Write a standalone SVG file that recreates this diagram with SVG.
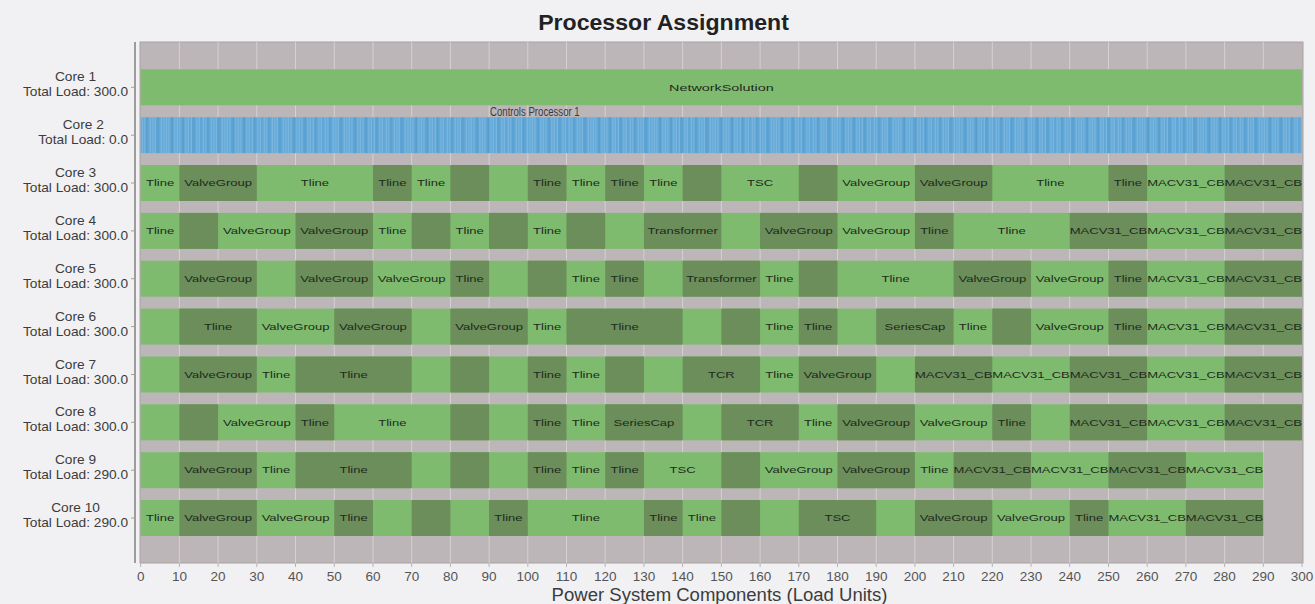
<svg xmlns="http://www.w3.org/2000/svg" width="1315" height="604" viewBox="0 0 1315 604">
<style>
.L{fill:#7fbb6f}
.D{fill:#6b8e5b}
.b{font-family:"Liberation Sans",Arial,sans-serif;font-size:9px;fill:#1e2a1c;text-anchor:middle}
.yl{font-family:"Liberation Sans",Arial,sans-serif;font-size:13.3px;fill:#3c3c3c;text-anchor:middle}
.xt{font-family:"Liberation Sans",Arial,sans-serif;font-size:13.5px;fill:#555;text-anchor:middle}
.grid line{stroke:#d6d0d2;stroke-width:1}
.sl{stroke:#94c5e7;stroke-width:0.7}
.sd{stroke:#4d90c1;stroke-width:0.6}
</style>
<defs>
<pattern id="stripes" patternUnits="userSpaceOnUse" x="140.7" y="0" width="61" height="40">
<rect width="61" height="40" fill="#60a6d6"/>
<line class="sl" x1="1.5" y1="0" x2="1.5" y2="40"/>
<line class="sl" x1="4" y1="0" x2="4" y2="40"/>
<line class="sd" x1="6" y1="0" x2="6" y2="40"/>
<line class="sl" x1="9.5" y1="0" x2="9.5" y2="40"/>
<line class="sl" x1="12" y1="0" x2="12" y2="40"/>
<line class="sl" x1="14.5" y1="0" x2="14.5" y2="40"/>
<line class="sd" x1="17" y1="0" x2="17" y2="40"/>
<line class="sl" x1="20.5" y1="0" x2="20.5" y2="40"/>
<line class="sl" x1="23" y1="0" x2="23" y2="40"/>
<line class="sl" x1="25.5" y1="0" x2="25.5" y2="40"/>
<line class="sl" x1="28" y1="0" x2="28" y2="40"/>
<line class="sd" x1="31.5" y1="0" x2="31.5" y2="40"/>
<line class="sl" x1="34" y1="0" x2="34" y2="40"/>
<line class="sl" x1="36.5" y1="0" x2="36.5" y2="40"/>
<line class="sl" x1="39" y1="0" x2="39" y2="40"/>
<line class="sd" x1="42.5" y1="0" x2="42.5" y2="40"/>
<line class="sl" x1="45" y1="0" x2="45" y2="40"/>
<line class="sl" x1="47.5" y1="0" x2="47.5" y2="40"/>
<line class="sl" x1="50.5" y1="0" x2="50.5" y2="40"/>
<line class="sd" x1="53" y1="0" x2="53" y2="40"/>
<line class="sl" x1="56" y1="0" x2="56" y2="40"/>
<line class="sl" x1="58.5" y1="0" x2="58.5" y2="40"/>
</pattern>
</defs>
<rect width="1315" height="604" fill="#f1f1f3"/>
<text x="663.5" y="30" transform="translate(663.5,0) scale(1.05,1) translate(-663.5,0)" font-family="Liberation Sans, Arial, sans-serif" font-size="22" font-weight="bold" fill="#222" text-anchor="middle">Processor Assignment</text>

<g id="plot-area">
<rect x="140" y="42" width="1163" height="521" fill="#bdb6b8" stroke="#a8a2a3" stroke-width="1"/>
<g class="grid">
<line x1="179.4" y1="42" x2="179.4" y2="563"/><line x1="218.1" y1="42" x2="218.1" y2="563"/><line x1="256.8" y1="42" x2="256.8" y2="563"/><line x1="295.5" y1="42" x2="295.5" y2="563"/><line x1="334.3" y1="42" x2="334.3" y2="563"/><line x1="373.0" y1="42" x2="373.0" y2="563"/><line x1="411.7" y1="42" x2="411.7" y2="563"/><line x1="450.4" y1="42" x2="450.4" y2="563"/><line x1="489.1" y1="42" x2="489.1" y2="563"/><line x1="527.8" y1="42" x2="527.8" y2="563"/><line x1="566.5" y1="42" x2="566.5" y2="563"/><line x1="605.2" y1="42" x2="605.2" y2="563"/><line x1="643.9" y1="42" x2="643.9" y2="563"/><line x1="682.6" y1="42" x2="682.6" y2="563"/><line x1="721.4" y1="42" x2="721.4" y2="563"/><line x1="760.1" y1="42" x2="760.1" y2="563"/><line x1="798.8" y1="42" x2="798.8" y2="563"/><line x1="837.5" y1="42" x2="837.5" y2="563"/><line x1="876.2" y1="42" x2="876.2" y2="563"/><line x1="914.9" y1="42" x2="914.9" y2="563"/><line x1="953.6" y1="42" x2="953.6" y2="563"/><line x1="992.3" y1="42" x2="992.3" y2="563"/><line x1="1031.0" y1="42" x2="1031.0" y2="563"/><line x1="1069.7" y1="42" x2="1069.7" y2="563"/><line x1="1108.5" y1="42" x2="1108.5" y2="563"/><line x1="1147.2" y1="42" x2="1147.2" y2="563"/><line x1="1185.9" y1="42" x2="1185.9" y2="563"/><line x1="1224.6" y1="42" x2="1224.6" y2="563"/><line x1="1263.3" y1="42" x2="1263.3" y2="563"/>
</g>
</g>

<g id="core2"><rect x="140.7" y="117.2" width="1161.3" height="36" fill="url(#stripes)"/></g>

<g id="bars" transform="translate(140.7,0) scale(3.871,1)">
<g id="core1"><rect class="L" x="0" y="69.3" width="300" height="36"/></g>
<g id="core3">
<rect class="L" x="0" y="165" width="300" height="36"/>
<rect class="D" x="10" y="165" width="20" height="36"/><rect class="D" x="60" y="165" width="10" height="36"/><rect class="D" x="80" y="165" width="10" height="36"/><rect class="D" x="100" y="165" width="10" height="36"/><rect class="D" x="120" y="165" width="10" height="36"/><rect class="D" x="140" y="165" width="10" height="36"/><rect class="D" x="170" y="165" width="10" height="36"/><rect class="D" x="200" y="165" width="20" height="36"/><rect class="D" x="250" y="165" width="10" height="36"/><rect class="D" x="280" y="165" width="20" height="36"/>
</g>
<g id="core4">
<rect class="L" x="0" y="212.9" width="300" height="36"/>
<rect class="D" x="10" y="212.9" width="10" height="36"/><rect class="D" x="40" y="212.9" width="20" height="36"/><rect class="D" x="70" y="212.9" width="10" height="36"/><rect class="D" x="90" y="212.9" width="10" height="36"/><rect class="D" x="110" y="212.9" width="10" height="36"/><rect class="D" x="130" y="212.9" width="20" height="36"/><rect class="D" x="160" y="212.9" width="20" height="36"/><rect class="D" x="200" y="212.9" width="10" height="36"/><rect class="D" x="240" y="212.9" width="20" height="36"/><rect class="D" x="280" y="212.9" width="20" height="36"/>
</g>
<g id="core5">
<rect class="L" x="0" y="260.7" width="300" height="36"/>
<rect class="D" x="10" y="260.7" width="20" height="36"/><rect class="D" x="40" y="260.7" width="20" height="36"/><rect class="D" x="80" y="260.7" width="10" height="36"/><rect class="D" x="100" y="260.7" width="10" height="36"/><rect class="D" x="120" y="260.7" width="10" height="36"/><rect class="D" x="140" y="260.7" width="20" height="36"/><rect class="D" x="170" y="260.7" width="10" height="36"/><rect class="D" x="210" y="260.7" width="20" height="36"/><rect class="D" x="250" y="260.7" width="10" height="36"/><rect class="D" x="280" y="260.7" width="20" height="36"/>
</g>
<g id="core6">
<rect class="L" x="0" y="308.6" width="300" height="36"/>
<rect class="D" x="10" y="308.6" width="20" height="36"/><rect class="D" x="50" y="308.6" width="20" height="36"/><rect class="D" x="80" y="308.6" width="20" height="36"/><rect class="D" x="110" y="308.6" width="30" height="36"/><rect class="D" x="150" y="308.6" width="10" height="36"/><rect class="D" x="170" y="308.6" width="10" height="36"/><rect class="D" x="190" y="308.6" width="20" height="36"/><rect class="D" x="220" y="308.6" width="10" height="36"/><rect class="D" x="250" y="308.6" width="10" height="36"/><rect class="D" x="280" y="308.6" width="20" height="36"/>
</g>
<g id="core7">
<rect class="L" x="0" y="356.5" width="300" height="36"/>
<rect class="D" x="10" y="356.5" width="20" height="36"/><rect class="D" x="40" y="356.5" width="30" height="36"/><rect class="D" x="80" y="356.5" width="10" height="36"/><rect class="D" x="100" y="356.5" width="10" height="36"/><rect class="D" x="120" y="356.5" width="10" height="36"/><rect class="D" x="140" y="356.5" width="20" height="36"/><rect class="D" x="170" y="356.5" width="20" height="36"/><rect class="D" x="200" y="356.5" width="20" height="36"/><rect class="D" x="240" y="356.5" width="20" height="36"/><rect class="D" x="280" y="356.5" width="20" height="36"/>
</g>
<g id="core8">
<rect class="L" x="0" y="404.3" width="300" height="36"/>
<rect class="D" x="10" y="404.3" width="10" height="36"/><rect class="D" x="40" y="404.3" width="10" height="36"/><rect class="D" x="80" y="404.3" width="10" height="36"/><rect class="D" x="100" y="404.3" width="10" height="36"/><rect class="D" x="120" y="404.3" width="20" height="36"/><rect class="D" x="150" y="404.3" width="20" height="36"/><rect class="D" x="180" y="404.3" width="20" height="36"/><rect class="D" x="220" y="404.3" width="10" height="36"/><rect class="D" x="240" y="404.3" width="20" height="36"/><rect class="D" x="280" y="404.3" width="20" height="36"/>
</g>
<g id="core9">
<rect class="L" x="0" y="452.2" width="290" height="36"/>
<rect class="D" x="10" y="452.2" width="20" height="36"/><rect class="D" x="40" y="452.2" width="30" height="36"/><rect class="D" x="80" y="452.2" width="10" height="36"/><rect class="D" x="100" y="452.2" width="10" height="36"/><rect class="D" x="120" y="452.2" width="10" height="36"/><rect class="D" x="150" y="452.2" width="10" height="36"/><rect class="D" x="180" y="452.2" width="20" height="36"/><rect class="D" x="210" y="452.2" width="20" height="36"/><rect class="D" x="250" y="452.2" width="20" height="36"/>
</g>
<g id="core10">
<rect class="L" x="0" y="500" width="290" height="36"/>
<rect class="D" x="10" y="500" width="20" height="36"/><rect class="D" x="50" y="500" width="10" height="36"/><rect class="D" x="70" y="500" width="10" height="36"/><rect class="D" x="90" y="500" width="10" height="36"/><rect class="D" x="130" y="500" width="10" height="36"/><rect class="D" x="150" y="500" width="10" height="36"/><rect class="D" x="170" y="500" width="20" height="36"/><rect class="D" x="200" y="500" width="20" height="36"/><rect class="D" x="240" y="500" width="10" height="36"/><rect class="D" x="270" y="500" width="20" height="36"/>
</g>
</g>

<g id="bar-labels">
<text class="b" transform="translate(721.35,90.8) scale(1.6,1.05)">NetworkSolution</text>
<text x="490" y="116.5" transform="translate(490,0) scale(0.74,1) translate(-490,0)" font-family="Liberation Sans, Arial, sans-serif" font-size="13" fill="#3a3a4a">Controls Processor 1</text>

<text class="b" transform="translate(160.06,186.2) scale(1.45,1)">Tline</text>
<text class="b" transform="translate(218.12,186.2) scale(1.45,1)">ValveGroup</text>
<text class="b" transform="translate(314.9,186.2) scale(1.45,1)">Tline</text>
<text class="b" transform="translate(392.32,186.2) scale(1.45,1)">Tline</text>
<text class="b" transform="translate(431.03,186.2) scale(1.45,1)">Tline</text>
<text class="b" transform="translate(547.16,186.2) scale(1.45,1)">Tline</text>
<text class="b" transform="translate(585.87,186.2) scale(1.45,1)">Tline</text>
<text class="b" transform="translate(624.58,186.2) scale(1.45,1)">Tline</text>
<text class="b" transform="translate(663.29,186.2) scale(1.45,1)">Tline</text>
<text class="b" transform="translate(760.06,186.2) scale(1.45,1)">TSC</text>
<text class="b" transform="translate(876.19,186.2) scale(1.45,1)">ValveGroup</text>
<text class="b" transform="translate(953.61,186.2) scale(1.45,1)">ValveGroup</text>
<text class="b" transform="translate(1050.39,186.2) scale(1.45,1)">Tline</text>
<text class="b" transform="translate(1127.81,186.2) scale(1.45,1)">Tline</text>
<text class="b" transform="translate(1185.87,186.2) scale(1.45,1)">MACV31_CB</text>
<text class="b" transform="translate(1263.29,186.2) scale(1.45,1)">MACV31_CB</text>

<text class="b" transform="translate(160.06,234.1) scale(1.45,1)">Tline</text>
<text class="b" transform="translate(256.83,234.1) scale(1.45,1)">ValveGroup</text>
<text class="b" transform="translate(334.25,234.1) scale(1.45,1)">ValveGroup</text>
<text class="b" transform="translate(392.32,234.1) scale(1.45,1)">Tline</text>
<text class="b" transform="translate(469.74,234.1) scale(1.45,1)">Tline</text>
<text class="b" transform="translate(547.16,234.1) scale(1.45,1)">Tline</text>
<text class="b" transform="translate(682.64,234.1) scale(1.45,1)">Transformer</text>
<text class="b" transform="translate(798.77,234.1) scale(1.45,1)">ValveGroup</text>
<text class="b" transform="translate(876.19,234.1) scale(1.45,1)">ValveGroup</text>
<text class="b" transform="translate(934.26,234.1) scale(1.45,1)">Tline</text>
<text class="b" transform="translate(1011.68,234.1) scale(1.45,1)">Tline</text>
<text class="b" transform="translate(1108.45,234.1) scale(1.45,1)">MACV31_CB</text>
<text class="b" transform="translate(1185.87,234.1) scale(1.45,1)">MACV31_CB</text>
<text class="b" transform="translate(1263.29,234.1) scale(1.45,1)">MACV31_CB</text>

<text class="b" transform="translate(218.12,281.9) scale(1.45,1)">ValveGroup</text>
<text class="b" transform="translate(334.25,281.9) scale(1.45,1)">ValveGroup</text>
<text class="b" transform="translate(411.67,281.9) scale(1.45,1)">ValveGroup</text>
<text class="b" transform="translate(469.74,281.9) scale(1.45,1)">Tline</text>
<text class="b" transform="translate(585.87,281.9) scale(1.45,1)">Tline</text>
<text class="b" transform="translate(624.58,281.9) scale(1.45,1)">Tline</text>
<text class="b" transform="translate(721.35,281.9) scale(1.45,1)">Transformer</text>
<text class="b" transform="translate(779.42,281.9) scale(1.45,1)">Tline</text>
<text class="b" transform="translate(895.55,281.9) scale(1.45,1)">Tline</text>
<text class="b" transform="translate(992.32,281.9) scale(1.45,1)">ValveGroup</text>
<text class="b" transform="translate(1069.74,281.9) scale(1.45,1)">ValveGroup</text>
<text class="b" transform="translate(1127.81,281.9) scale(1.45,1)">Tline</text>
<text class="b" transform="translate(1185.87,281.9) scale(1.45,1)">MACV31_CB</text>
<text class="b" transform="translate(1263.29,281.9) scale(1.45,1)">MACV31_CB</text>

<text class="b" transform="translate(218.12,329.8) scale(1.45,1)">Tline</text>
<text class="b" transform="translate(295.54,329.8) scale(1.45,1)">ValveGroup</text>
<text class="b" transform="translate(372.96,329.8) scale(1.45,1)">ValveGroup</text>
<text class="b" transform="translate(489.09,329.8) scale(1.45,1)">ValveGroup</text>
<text class="b" transform="translate(547.16,329.8) scale(1.45,1)">Tline</text>
<text class="b" transform="translate(624.58,329.8) scale(1.45,1)">Tline</text>
<text class="b" transform="translate(779.42,329.8) scale(1.45,1)">Tline</text>
<text class="b" transform="translate(818.13,329.8) scale(1.45,1)">Tline</text>
<text class="b" transform="translate(914.9,329.8) scale(1.45,1)">SeriesCap</text>
<text class="b" transform="translate(972.97,329.8) scale(1.45,1)">Tline</text>
<text class="b" transform="translate(1069.74,329.8) scale(1.45,1)">ValveGroup</text>
<text class="b" transform="translate(1127.81,329.8) scale(1.45,1)">Tline</text>
<text class="b" transform="translate(1185.87,329.8) scale(1.45,1)">MACV31_CB</text>
<text class="b" transform="translate(1263.29,329.8) scale(1.45,1)">MACV31_CB</text>

<text class="b" transform="translate(218.12,377.7) scale(1.45,1)">ValveGroup</text>
<text class="b" transform="translate(276.19,377.7) scale(1.45,1)">Tline</text>
<text class="b" transform="translate(353.61,377.7) scale(1.45,1)">Tline</text>
<text class="b" transform="translate(547.16,377.7) scale(1.45,1)">Tline</text>
<text class="b" transform="translate(585.87,377.7) scale(1.45,1)">Tline</text>
<text class="b" transform="translate(721.35,377.7) scale(1.45,1)">TCR</text>
<text class="b" transform="translate(779.42,377.7) scale(1.45,1)">Tline</text>
<text class="b" transform="translate(837.48,377.7) scale(1.45,1)">ValveGroup</text>
<text class="b" transform="translate(953.61,377.7) scale(1.45,1)">MACV31_CB</text>
<text class="b" transform="translate(1031.03,377.7) scale(1.45,1)">MACV31_CB</text>
<text class="b" transform="translate(1108.45,377.7) scale(1.45,1)">MACV31_CB</text>
<text class="b" transform="translate(1185.87,377.7) scale(1.45,1)">MACV31_CB</text>
<text class="b" transform="translate(1263.29,377.7) scale(1.45,1)">MACV31_CB</text>

<text class="b" transform="translate(256.83,425.5) scale(1.45,1)">ValveGroup</text>
<text class="b" transform="translate(314.9,425.5) scale(1.45,1)">Tline</text>
<text class="b" transform="translate(392.32,425.5) scale(1.45,1)">Tline</text>
<text class="b" transform="translate(547.16,425.5) scale(1.45,1)">Tline</text>
<text class="b" transform="translate(585.87,425.5) scale(1.45,1)">Tline</text>
<text class="b" transform="translate(643.93,425.5) scale(1.45,1)">SeriesCap</text>
<text class="b" transform="translate(760.06,425.5) scale(1.45,1)">TCR</text>
<text class="b" transform="translate(818.13,425.5) scale(1.45,1)">Tline</text>
<text class="b" transform="translate(876.19,425.5) scale(1.45,1)">ValveGroup</text>
<text class="b" transform="translate(953.61,425.5) scale(1.45,1)">ValveGroup</text>
<text class="b" transform="translate(1011.68,425.5) scale(1.45,1)">Tline</text>
<text class="b" transform="translate(1108.45,425.5) scale(1.45,1)">MACV31_CB</text>
<text class="b" transform="translate(1185.87,425.5) scale(1.45,1)">MACV31_CB</text>
<text class="b" transform="translate(1263.29,425.5) scale(1.45,1)">MACV31_CB</text>

<text class="b" transform="translate(218.12,473.4) scale(1.45,1)">ValveGroup</text>
<text class="b" transform="translate(276.19,473.4) scale(1.45,1)">Tline</text>
<text class="b" transform="translate(353.61,473.4) scale(1.45,1)">Tline</text>
<text class="b" transform="translate(547.16,473.4) scale(1.45,1)">Tline</text>
<text class="b" transform="translate(585.87,473.4) scale(1.45,1)">Tline</text>
<text class="b" transform="translate(624.58,473.4) scale(1.45,1)">Tline</text>
<text class="b" transform="translate(682.64,473.4) scale(1.45,1)">TSC</text>
<text class="b" transform="translate(798.77,473.4) scale(1.45,1)">ValveGroup</text>
<text class="b" transform="translate(876.19,473.4) scale(1.45,1)">ValveGroup</text>
<text class="b" transform="translate(934.26,473.4) scale(1.45,1)">Tline</text>
<text class="b" transform="translate(992.32,473.4) scale(1.45,1)">MACV31_CB</text>
<text class="b" transform="translate(1069.74,473.4) scale(1.45,1)">MACV31_CB</text>
<text class="b" transform="translate(1147.16,473.4) scale(1.45,1)">MACV31_CB</text>
<text class="b" transform="translate(1224.58,473.4) scale(1.45,1)">MACV31_CB</text>

<text class="b" transform="translate(160.06,521.2) scale(1.45,1)">Tline</text>
<text class="b" transform="translate(218.12,521.2) scale(1.45,1)">ValveGroup</text>
<text class="b" transform="translate(295.54,521.2) scale(1.45,1)">ValveGroup</text>
<text class="b" transform="translate(353.61,521.2) scale(1.45,1)">Tline</text>
<text class="b" transform="translate(508.45,521.2) scale(1.45,1)">Tline</text>
<text class="b" transform="translate(585.87,521.2) scale(1.45,1)">Tline</text>
<text class="b" transform="translate(663.29,521.2) scale(1.45,1)">Tline</text>
<text class="b" transform="translate(701.99,521.2) scale(1.45,1)">Tline</text>
<text class="b" transform="translate(837.48,521.2) scale(1.45,1)">TSC</text>
<text class="b" transform="translate(953.61,521.2) scale(1.45,1)">ValveGroup</text>
<text class="b" transform="translate(1031.03,521.2) scale(1.45,1)">ValveGroup</text>
<text class="b" transform="translate(1089.1,521.2) scale(1.45,1)">Tline</text>
<text class="b" transform="translate(1147.16,521.2) scale(1.45,1)">MACV31_CB</text>
<text class="b" transform="translate(1224.58,521.2) scale(1.45,1)">MACV31_CB</text>
</g>

<g id="axes" stroke-linecap="butt">
<line x1="135" y1="42" x2="135" y2="563" stroke="#9c9c9c" stroke-width="2"/>
<line x1="140" y1="563.5" x2="1303" y2="563.5" stroke="#cfcaca" stroke-width="1"/>
<g stroke="#a0a0a0" stroke-width="1">
<line x1="131" y1="87.3" x2="135" y2="87.3"/><line x1="131" y1="135.2" x2="135" y2="135.2"/><line x1="131" y1="183" x2="135" y2="183"/><line x1="131" y1="230.9" x2="135" y2="230.9"/><line x1="131" y1="278.7" x2="135" y2="278.7"/><line x1="131" y1="326.6" x2="135" y2="326.6"/><line x1="131" y1="374.5" x2="135" y2="374.5"/><line x1="131" y1="422.3" x2="135" y2="422.3"/><line x1="131" y1="470.2" x2="135" y2="470.2"/><line x1="131" y1="518" x2="135" y2="518"/>
</g>
<g stroke="#b5b5b5" stroke-width="1">
<line x1="140.7" y1="563" x2="140.7" y2="567"/><line x1="179.4" y1="563" x2="179.4" y2="567"/><line x1="218.1" y1="563" x2="218.1" y2="567"/><line x1="256.8" y1="563" x2="256.8" y2="567"/><line x1="295.5" y1="563" x2="295.5" y2="567"/><line x1="334.3" y1="563" x2="334.3" y2="567"/><line x1="373.0" y1="563" x2="373.0" y2="567"/><line x1="411.7" y1="563" x2="411.7" y2="567"/><line x1="450.4" y1="563" x2="450.4" y2="567"/><line x1="489.1" y1="563" x2="489.1" y2="567"/><line x1="527.8" y1="563" x2="527.8" y2="567"/><line x1="566.5" y1="563" x2="566.5" y2="567"/><line x1="605.2" y1="563" x2="605.2" y2="567"/><line x1="643.9" y1="563" x2="643.9" y2="567"/><line x1="682.6" y1="563" x2="682.6" y2="567"/><line x1="721.4" y1="563" x2="721.4" y2="567"/><line x1="760.1" y1="563" x2="760.1" y2="567"/><line x1="798.8" y1="563" x2="798.8" y2="567"/><line x1="837.5" y1="563" x2="837.5" y2="567"/><line x1="876.2" y1="563" x2="876.2" y2="567"/><line x1="914.9" y1="563" x2="914.9" y2="567"/><line x1="953.6" y1="563" x2="953.6" y2="567"/><line x1="992.3" y1="563" x2="992.3" y2="567"/><line x1="1031.0" y1="563" x2="1031.0" y2="567"/><line x1="1069.7" y1="563" x2="1069.7" y2="567"/><line x1="1108.5" y1="563" x2="1108.5" y2="567"/><line x1="1147.2" y1="563" x2="1147.2" y2="567"/><line x1="1185.9" y1="563" x2="1185.9" y2="567"/><line x1="1224.6" y1="563" x2="1224.6" y2="567"/><line x1="1263.3" y1="563" x2="1263.3" y2="567"/><line x1="1302" y1="563" x2="1302" y2="567"/>
</g>
</g>

<g id="y-labels">
<text class="yl" transform="translate(75.5,81.3) scale(1.03,1)">Core 1</text><text class="yl" transform="translate(75.5,96.3) scale(1.03,1)">Total Load: 300.0</text>
<text class="yl" transform="translate(83.2,129.2) scale(1.03,1)">Core 2</text><text class="yl" transform="translate(83.2,144.2) scale(1.03,1)">Total Load: 0.0</text>
<text class="yl" transform="translate(75.5,177) scale(1.03,1)">Core 3</text><text class="yl" transform="translate(75.5,192) scale(1.03,1)">Total Load: 300.0</text>
<text class="yl" transform="translate(75.5,224.9) scale(1.03,1)">Core 4</text><text class="yl" transform="translate(75.5,239.9) scale(1.03,1)">Total Load: 300.0</text>
<text class="yl" transform="translate(75.5,272.7) scale(1.03,1)">Core 5</text><text class="yl" transform="translate(75.5,287.7) scale(1.03,1)">Total Load: 300.0</text>
<text class="yl" transform="translate(75.5,320.6) scale(1.03,1)">Core 6</text><text class="yl" transform="translate(75.5,335.6) scale(1.03,1)">Total Load: 300.0</text>
<text class="yl" transform="translate(75.5,368.5) scale(1.03,1)">Core 7</text><text class="yl" transform="translate(75.5,383.5) scale(1.03,1)">Total Load: 300.0</text>
<text class="yl" transform="translate(75.5,416.3) scale(1.03,1)">Core 8</text><text class="yl" transform="translate(75.5,431.3) scale(1.03,1)">Total Load: 300.0</text>
<text class="yl" transform="translate(75.5,464.2) scale(1.03,1)">Core 9</text><text class="yl" transform="translate(75.5,479.2) scale(1.03,1)">Total Load: 290.0</text>
<text class="yl" transform="translate(75.5,512) scale(1.03,1)">Core 10</text><text class="yl" transform="translate(75.5,527) scale(1.03,1)">Total Load: 290.0</text>
</g>

<g id="x-labels">
<text class="xt" x="140.7" y="580.5">0</text><text class="xt" x="179.4" y="580.5">10</text><text class="xt" x="218.1" y="580.5">20</text><text class="xt" x="256.8" y="580.5">30</text><text class="xt" x="295.5" y="580.5">40</text><text class="xt" x="334.3" y="580.5">50</text><text class="xt" x="373.0" y="580.5">60</text><text class="xt" x="411.7" y="580.5">70</text><text class="xt" x="450.4" y="580.5">80</text><text class="xt" x="489.1" y="580.5">90</text><text class="xt" x="527.8" y="580.5">100</text><text class="xt" x="566.5" y="580.5">110</text><text class="xt" x="605.2" y="580.5">120</text><text class="xt" x="643.9" y="580.5">130</text><text class="xt" x="682.6" y="580.5">140</text><text class="xt" x="721.4" y="580.5">150</text><text class="xt" x="760.1" y="580.5">160</text><text class="xt" x="798.8" y="580.5">170</text><text class="xt" x="837.5" y="580.5">180</text><text class="xt" x="876.2" y="580.5">190</text><text class="xt" x="914.9" y="580.5">200</text><text class="xt" x="953.6" y="580.5">210</text><text class="xt" x="992.3" y="580.5">220</text><text class="xt" x="1031.0" y="580.5">230</text><text class="xt" x="1069.7" y="580.5">240</text><text class="xt" x="1108.5" y="580.5">250</text><text class="xt" x="1147.2" y="580.5">260</text><text class="xt" x="1185.9" y="580.5">270</text><text class="xt" x="1224.6" y="580.5">280</text><text class="xt" x="1263.3" y="580.5">290</text><text class="xt" x="1302" y="580.5">300</text>
<text transform="translate(719.5,600.5) scale(1.06,1)" font-family="Liberation Sans, Arial, sans-serif" font-size="17.5" fill="#3c3c3c" text-anchor="middle">Power System Components (Load Units)</text>
</g>
</svg>
